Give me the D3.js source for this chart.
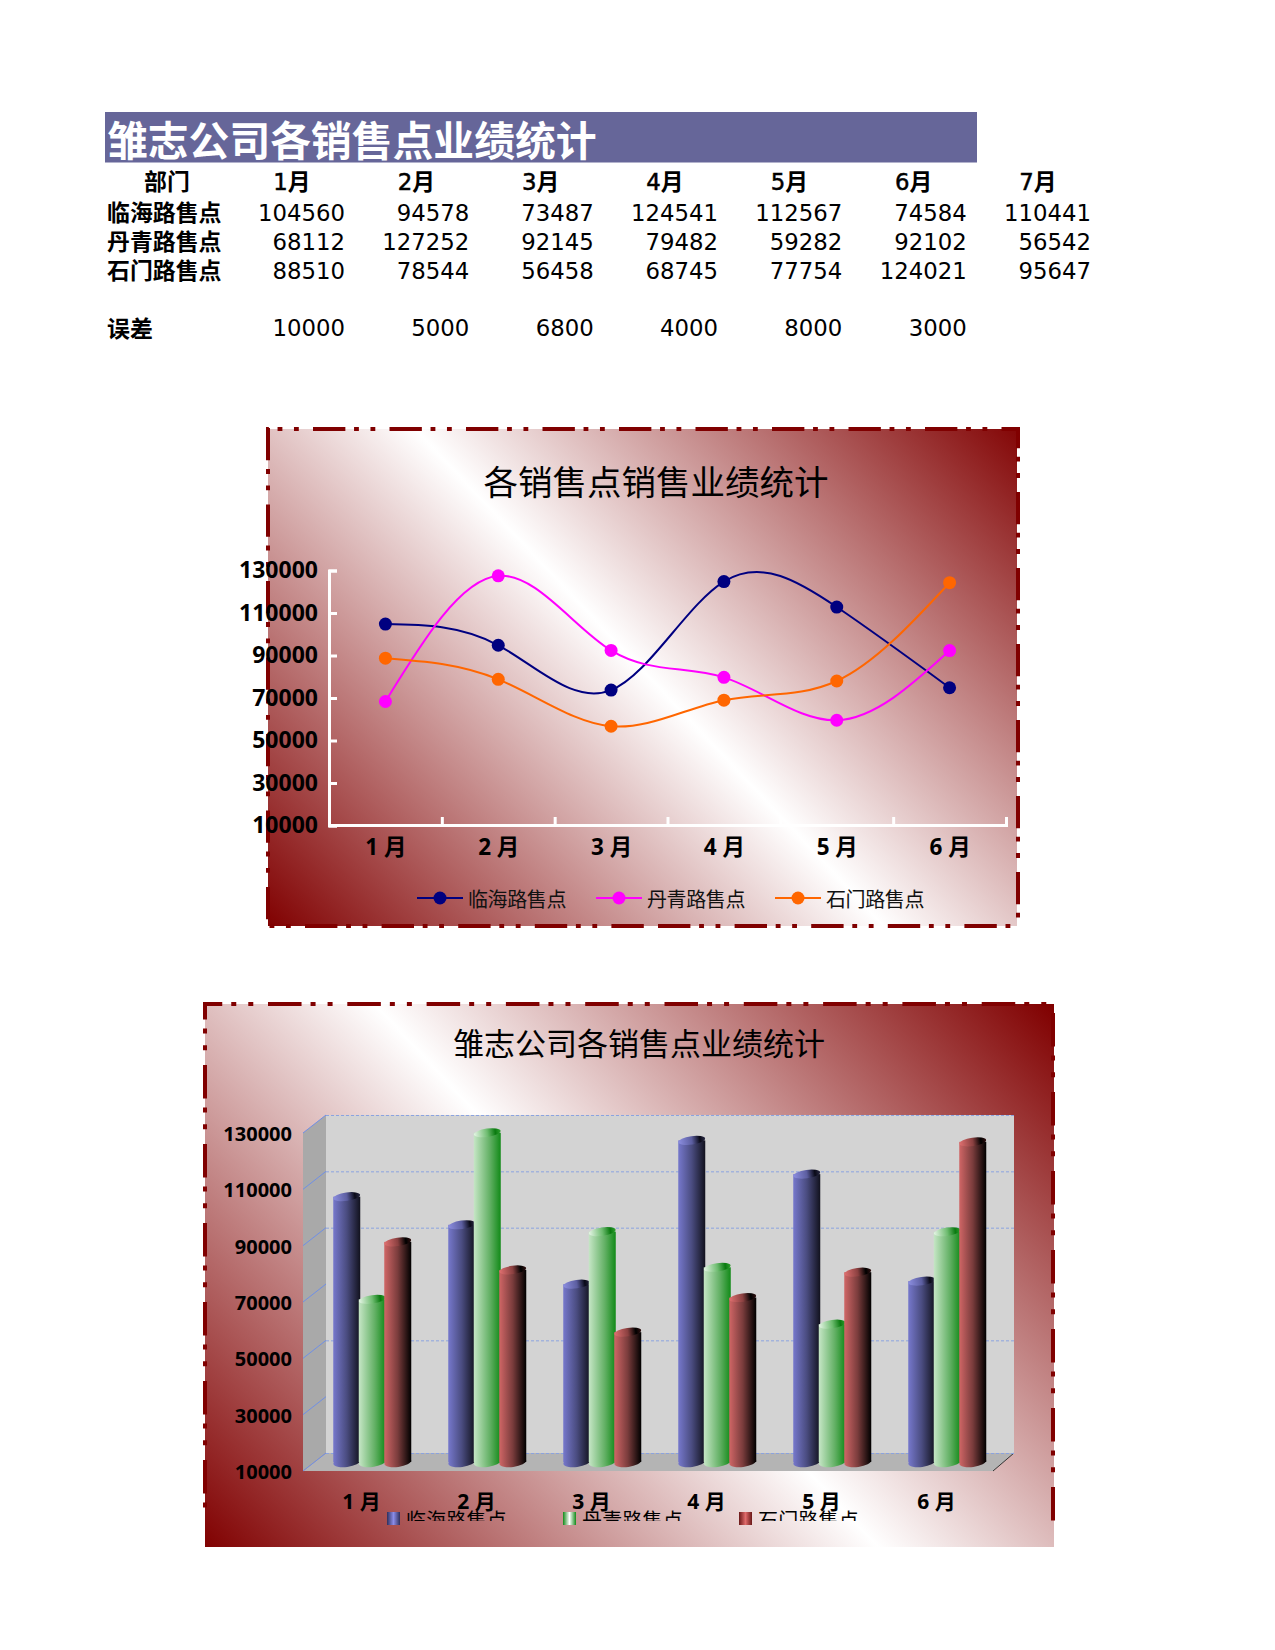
<!DOCTYPE html>
<html><head><meta charset="utf-8">
<script src="https://cdn.jsdelivr.net/npm/d3@7/dist/d3.min.js"></script>
<style>html,body{margin:0;padding:0;background:#fff}svg{display:block}
text{font-family:"DejaVu Sans","Noto Sans CJK SC",sans-serif}
.cjk text,text.cjk{font-family:"Noto Sans","Noto Sans CJK SC",sans-serif}</style>
</head><body><svg id="c" width="1275" height="1650"></svg>
<script>
const title = "雏志公司各销售点业绩统计";
const chartTitle1 = "各销售点销售业绩统计";
const chartTitle2 = "雏志公司各销售点业绩统计";
const monthNums = ["1","2","3","4","5","6","7"];
const monthUnit = "月";
const seriesNames = ["临海路售点","丹青路售点","石门路售点"];
const linhai  = [104560,94578,73487,124541,112567,74584,110441];
const danqing = [68112,127252,92145,79482,59282,92102,56542];
const shimen  = [88510,78544,56458,68745,77754,124021,95647];
const errorLabel = "误差";
const errors = [10000,5000,6800,4000,8000,3000];
const chartCats = ["1 月","2 月","3 月","4 月","5 月","6 月"];
const yTicks = [10000,30000,50000,70000,90000,110000,130000];
const backGrid = [10000,50000,90000,110000,130000];
const lineColors = ["#000080","#ff00ff","#ff6600"];
const allSeries = [linhai,danqing,shimen];

const svg = d3.select("#c"), defs = svg.append("defs");

/* ---------- table ---------- */
svg.append("rect").attr("x",105).attr("y",112).attr("width",872).attr("height",50.5).attr("fill","#666699");
svg.append("text").attr("x",107).attr("y",156).attr("font-size",40.8).attr("font-weight",700).attr("fill","#fff").text(title);
const colX = d3.scaleLinear().domain([0,6]).range([345,1091]);
const tbl = svg.append("g").attr("font-size",22.8).attr("fill","#000");
tbl.append("text").attr("x",167).attr("y",190).attr("text-anchor","middle").attr("font-size",22.9).attr("font-weight",700).text("部门");
const mh = tbl.selectAll(".mh").data(monthNums).join("text").attr("class","mh").attr("x",(d,i)=>colX(i)-53).attr("y",190)
  .attr("text-anchor","middle");
mh.append("tspan").attr("stroke","#000").attr("stroke-width",.5).text(d=>d);
mh.append("tspan").attr("font-weight",700).text(monthUnit);
const rowY = [220.5,249.5,278.5];
seriesNames.forEach((n,r)=>{
  tbl.append("text").attr("x",107).attr("y",rowY[r]).attr("font-size",22.9).attr("font-weight",700).text(n);
  tbl.append("g").selectAll("text").data(allSeries[r]).join("text")
    .attr("x",(d,i)=>colX(i)).attr("y",rowY[r]).attr("text-anchor","end").text(d=>d);
});
tbl.append("text").attr("x",107).attr("y",337).attr("font-size",22.9).attr("font-weight",700).text(errorLabel);
tbl.append("g").selectAll("text").data(errors).join("text")
  .attr("x",(d,i)=>colX(i)).attr("y",336).attr("text-anchor","end").text(d=>d);

/* ---------- helpers ---------- */
function bgGradient(id,cx,cy,nx,ny,h){
  const g = defs.append("linearGradient").attr("id",id).attr("gradientUnits","userSpaceOnUse")
    .attr("x1",cx-h*nx).attr("y1",cy-h*ny).attr("x2",cx+h*nx).attr("y2",cy+h*ny);
  [[0,"#800000"],[.5,"#ffffff"],[1,"#800000"]].forEach(s=>g.append("stop").attr("offset",s[0]).attr("stop-color",s[1]));
}
function dash(g,x1,y1,x2,y2,start,P){
  const horiz = y1===y2, from = horiz?x1:y1;
  const scale = P/79.2, off = (((from-start)%P)+P)%P;
  g.append("line").attr("x1",x1).attr("y1",y1).attr("x2",x2).attr("y2",y2)
    .attr("stroke","#800000").attr("stroke-width",4)
    .attr("stroke-dasharray",[33.5,9,5,12,5,14.7].map(v=>v*scale).join(" "))
    .attr("stroke-dashoffset",off);
}
function hAxisStyle(sel){ sel.select(".domain").attr("stroke","#fff").attr("stroke-width",3);
  sel.selectAll(".tick line").attr("stroke","#fff").attr("stroke-width",3); }

/* ---------- chart 1 ---------- */
bgGradient("bg1",649,677,.727,-.686,450);
svg.append("rect").attr("x",268).attr("y",429).attr("width",749).attr("height",497).attr("fill","url(#bg1)");
const b1 = svg.append("g");
dash(b1,266,429,1020,429,313,76.5);
dash(b1,268,427,268,928,428,76.5);
dash(b1,1018,427,1018,928,492,76);
dash(b1,266,926,650,926,305,76.6);
dash(b1,650,926,1012,926,658,76.6);

svg.append("text").attr("x",656).attr("y",495).attr("text-anchor","middle").attr("font-size",34.5)
  .attr("class","cjk").text(chartTitle1);

const x1 = d3.scaleBand().domain(chartCats).range([329,1006]);
const xEdge = d3.scaleLinear().domain([0,6]).range([329,1006]);
const y1s = d3.scaleLinear().domain([10000,130000]).range([825,570]);

const ya = svg.append("g").attr("transform","translate(329,0.5)").attr("class","cjk")
  .call(d3.axisLeft(y1s).tickValues(yTicks).tickFormat(d3.format("d")).tickSize(-8).tickPadding(11));
ya.call(hAxisStyle); ya.selectAll("text").attr("font-size",23).attr("font-weight",700).attr("fill","#000");
const xa = svg.append("g").attr("transform","translate(0,825)")
  .call(d3.axisBottom(xEdge).tickValues(d3.range(0,7)).tickFormat("").tickSize(-8));
xa.call(hAxisStyle);
const xl = svg.append("g").attr("transform","translate(0.5,825)").attr("class","cjk")
  .call(d3.axisBottom(x1).tickSize(0).tickPadding(14));
xl.select(".domain").remove();
xl.selectAll("text").attr("font-size",22.5).attr("font-weight",700).attr("fill","#000");

const line = d3.line().x((d,i)=>x1(chartCats[i])+x1.bandwidth()/2).y(d=>y1s(d)).curve(d3.curveNatural);
allSeries.forEach((s,k)=>{
  const vals = s.slice(0,6), g = svg.append("g");
  g.append("path").attr("d",line(vals)).attr("fill","none").attr("stroke",lineColors[k]).attr("stroke-width",2);
  g.selectAll("circle").data(vals).join("circle")
    .attr("cx",(d,i)=>x1(chartCats[i])+x1.bandwidth()/2).attr("cy",d=>y1s(d)).attr("r",6.5).attr("fill",lineColors[k]);
});
const legX1 = d3.scaleLinear().domain([0,1]).range([417,596]);
seriesNames.forEach((n,k)=>{
  const x = legX1(k), g = svg.append("g").attr("class","cjk");
  g.append("line").attr("x1",x).attr("x2",x+46).attr("y1",898).attr("y2",898).attr("stroke",lineColors[k]).attr("stroke-width",2);
  g.append("circle").attr("cx",x+23).attr("cy",898).attr("r",6.5).attr("fill",lineColors[k]);
  g.append("text").attr("x",x+51).attr("y",907).attr("font-size",20).attr("letter-spacing",-.4).attr("fill","#111").text(n);
});

/* ---------- chart 2 ---------- */
bgGradient("bg2",626,1275,.734,-.68,496);
svg.append("rect").attr("x",205).attr("y",1004).attr("width",849).attr("height",543).attr("fill","url(#bg2)");
const b2 = svg.append("g");
dash(b2,203,1004,1056,1004,268,79.3);
dash(b2,205,1002,205,1512,1065,79);
dash(b2,1053,1006,1053,1522,1013,79);

svg.append("text").attr("x",639).attr("y",1055).attr("text-anchor","middle").attr("font-size",31)
  .attr("class","cjk").text(chartTitle2);

const fy = d3.scaleLinear().domain([10000,130000]).range([1471,1133]);
const by = d3.scaleLinear().domain([10000,130000]).range([1453,1115]);
const my = d3.scaleLinear().domain([10000,130000]).range([1462,1124]);
const topY = d3.scaleLinear().domain([10000,130000]).range([1463,1125]);
const BL=303, BR=993, WL=326, WR=1014;
const x2 = d3.scaleBand().domain(chartCats).range([BL,BR]);
const poly = pts => "M"+pts.map(p=>p.join(",")).join("L")+"Z";
svg.append("path").attr("d",poly([[BL,fy(130000)],[WL,by(130000)],[WL,by(10000)],[BL,fy(10000)]])).attr("fill","#a9a9a9");
svg.append("rect").attr("x",WL).attr("y",by(130000)).attr("width",WR-WL).attr("height",by(10000)-by(130000)).attr("fill","#d3d3d3");
svg.append("path").attr("d",poly([[BL,fy(10000)],[WL,by(10000)],[WR,by(10000)],[BR,fy(10000)]])).attr("fill","#b4b4b4");
svg.append("line").attr("x1",BR).attr("y1",fy(10000)).attr("x2",WR).attr("y2",by(10000)).attr("stroke","#333").attr("stroke-width",1);
svg.append("g").selectAll("line").data(backGrid).join("line")
  .attr("x1",WL).attr("x2",WR).attr("y1",d=>by(d)+.5).attr("y2",d=>by(d)+.5)
  .attr("stroke","#8ba3e0").attr("stroke-width",1).attr("stroke-dasharray","3 2");
svg.append("g").selectAll("line").data(yTicks).join("line")
  .attr("x1",BL).attr("x2",WL).attr("y1",d=>fy(d)).attr("y2",d=>by(d))
  .attr("stroke","#6f8fe6").attr("stroke-width",1);

const ya2 = svg.append("g").attr("transform","translate(303,1.2)").attr("class","cjk")
  .call(d3.axisLeft(fy).tickValues(yTicks).tickFormat(d3.format("d")).tickSize(0).tickPadding(11));
ya2.select(".domain").remove();
ya2.selectAll("text").attr("font-size",20).attr("font-weight",700).attr("fill","#000");
const xl2 = svg.append("g").attr("transform","translate(1,1471)").attr("class","cjk")
  .call(d3.axisBottom(x2).tickSize(0).tickPadding(23));
xl2.select(".domain").remove();
xl2.selectAll("text").attr("font-size",21).attr("font-weight",700).attr("fill","#000");

const bodyStops = [
  [[0,"#7678cc"],[.5,"#4a4c80"],[1,"#12121e"]],
  [[0,"#c6e6c6"],[.6,"#62b064"],[1,"#128a18"]],
  [[0,"#d06666"],[.5,"#7a3c3c"],[1,"#000000"]]
];
const topStops = [
  [[0,"#8c8ee0"],[.5,"#5c5ea0"],[.8,"#0a0a18"],[1,"#2a2a44"]],
  [[0,"#e6f5e6"],[.5,"#6ebc70"],[.8,"#0a7a10"],[1,"#30a030"]],
  [[0,"#e07070"],[.5,"#8a4040"],[.8,"#000000"],[1,"#301010"]]
];
const legStops = [
  [[0,"#30305c"],[.5,"#8a8ce8"],[1,"#30305c"]],
  [[0,"#128a18"],[.5,"#ffffff"],[1,"#128a18"]],
  [[0,"#6a1818"],[.5,"#e06c6c"],[1,"#6a1818"]]
];
function grad(id,stops){
  const g = defs.append("linearGradient").attr("id",id).attr("x1",0).attr("x2",1).attr("y1",0).attr("y2",0);
  stops.forEach(s=>g.append("stop").attr("offset",s[0]).attr("stop-color",s[1]));
}
seriesNames.forEach((n,k)=>{grad("body"+k,bodyStops[k]);grad("top"+k,topStops[k]);grad("leg"+k,legStops[k]);});

const inner = d3.scaleBand().domain([0,1,2]).range([-38.25,38.25]);
const barW = 27, rx = barW/2, ry = 5;
allSeries.forEach((s,k)=>{
  const vals = s.slice(0,6);
  const g = svg.append("g").selectAll("g").data(vals).join("g")
    .attr("transform",(d,i)=>`translate(${x2(chartCats[i])+x2.bandwidth()/2+11+inner(k)},0)`);
  g.append("ellipse").attr("cx",rx).attr("cy",my(10000)).attr("rx",rx).attr("ry",ry)
    .attr("transform",`rotate(-7 ${rx} ${my(10000)})`).attr("fill",`url(#body${k})`);
  g.append("rect").attr("x",0).attr("width",barW).attr("y",d=>topY(d)).attr("height",d=>my(10000)-topY(d)).attr("fill",`url(#body${k})`);
  g.append("ellipse").attr("cx",rx).attr("cy",d=>topY(d)).attr("rx",rx).attr("ry",4.2)
    .attr("transform",d=>`rotate(-8 ${rx} ${topY(d)})`).attr("fill",`url(#top${k})`);
});

defs.append("clipPath").attr("id","legClip").append("rect").attr("x",205).attr("y",1500).attr("width",849).attr("height",21);
const legX2 = d3.scaleLinear().domain([0,1]).range([387,563]);
seriesNames.forEach((n,k)=>{
  const x = legX2(k);
  svg.append("rect").attr("x",x).attr("y",1512).attr("width",13).attr("height",13).attr("fill",`url(#leg${k})`);
  svg.append("text").attr("class","cjk").attr("clip-path","url(#legClip)").attr("x",x+19).attr("y",1528)
    .attr("font-size",20).attr("letter-spacing",.2).attr("fill","#000").text(n);
});
</script></body></html>
